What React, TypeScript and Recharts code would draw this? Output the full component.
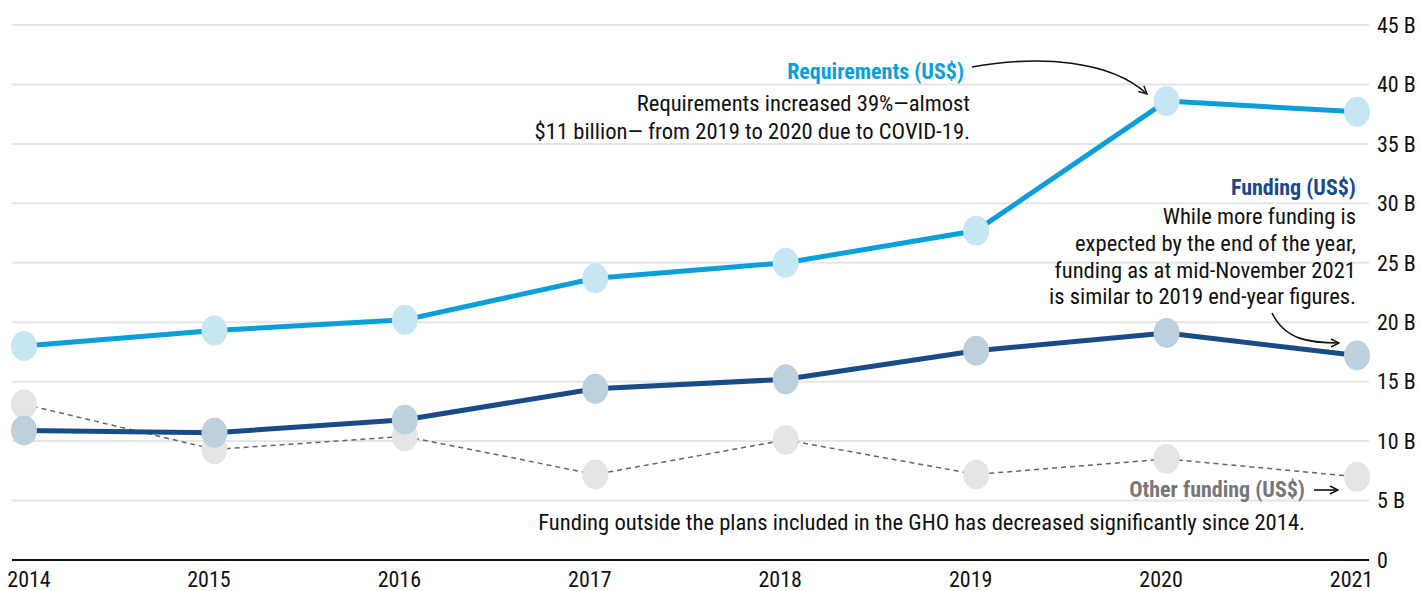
import React from "react";
import { LineChart, Line, XAxis, YAxis, CartesianGrid, Customized } from "recharts";

const years = [2014, 2015, 2016, 2017, 2018, 2019, 2020, 2021];
const requirements = [18.0, 19.3, 20.2, 23.7, 25.0, 27.7, 38.6, 37.7];
const funding = [10.9, 10.7, 11.8, 14.4, 15.2, 17.6, 19.1, 17.2];
const otherFunding = [13.1, 9.3, 10.4, 7.2, 10.1, 7.2, 8.5, 7.0];
const yTicks = [0, 5, 10, 15, 20, 25, 30, 35, 40, 45];

const data = years.map((year, i) => ({
  year,
  req: requirements[i],
  fund: funding[i],
  other: otherFunding[i],
}));

const FONT = "'Roboto Condensed', Roboto, 'Noto Sans', sans-serif";
const FS = 22;
const BODY_FS = 22.6;
const REQ = "#0a9fdb";
const FUND = "#1a4b89";
const OTHER = "#666666";

const makeDot = (fill: string) => (props: any) => {
  const { cx, cy, index } = props;
  if (cx == null || cy == null) return <g key={index} />;
  return <ellipse key={index} cx={cx} cy={cy} rx={13} ry={15} fill={fill} />;
};

const XTick = (props: any) => {
  const { x, y, payload, index } = props;
  const dx = index === 0 ? 5 : -5.5;
  return (
    <text x={x + dx} y={y + 19} textAnchor="middle" fontFamily={FONT} fontSize={FS} fill="#111">
      {payload.value}
    </text>
  );
};

const Annotations = () => {
  const body = { fontFamily: FONT, fontSize: BODY_FS, fill: "#111", textAnchor: "end" as const };
  const title = { fontFamily: FONT, fontSize: FS, fontWeight: 700, textAnchor: "end" as const };
  return (
    <g>
      <defs>
        <marker id="arrowOpen" viewBox="0 0 10 10" refX="9" refY="5" markerWidth="10" markerHeight="10" orient="auto-start-reverse" markerUnits="userSpaceOnUse">
          <path d="M1,1 L9,5 L1,9" fill="none" stroke="#111" strokeWidth="1.4" />
        </marker>
      </defs>
      <text x={964} y={79} {...title} fill={REQ}>Requirements (US$)</text>
      <text x={970} y={111} {...body}>Requirements increased 39%—almost</text>
      <text x={970} y={139} {...body}>$11 billion— from 2019 to 2020 due to COVID-19.</text>
      <path d="M972,67 C1040,55 1110,60 1147,94" fill="none" stroke="#111" strokeWidth={1.6} markerEnd="url(#arrowOpen)" />

      <text x={1356} y={195} {...title} fill={FUND}>Funding (US$)</text>
      <text x={1356} y={224} {...body}>While more funding is</text>
      <text x={1356} y={251} {...body}>expected by the end of the year,</text>
      <text x={1356} y={278} {...body}>funding as at  mid-November 2021</text>
      <text x={1356} y={304} {...body}>is similar to 2019 end-year figures.</text>
      <path d="M1272,313 C1285,340 1310,343 1339,343" fill="none" stroke="#111" strokeWidth={1.6} markerEnd="url(#arrowOpen)" />

      <text x={1305} y={497} {...title} fill="#777">Other funding (US$)</text>
      <path d="M1314,490 L1338,490" fill="none" stroke="#111" strokeWidth={1.6} markerEnd="url(#arrowOpen)" />
      <text x={1305} y={530} {...body}>Funding outside the plans included in the GHO has decreased significantly since 2014.</text>
    </g>
  );
};

export default function App() {
  return (
    <div style={{ position: "absolute", left: 0, top: 0, background: "#fff" }}>
      <LineChart width={1421} height={591} data={data} margin={{ top: 25, right: 0, bottom: 0, left: 12 }}>
        <CartesianGrid horizontal vertical={false} stroke="#e6e6e6" strokeWidth={2} />
        <XAxis
          dataKey="year"
          type="number"
          domain={[2013.937, 2021.063]}
          ticks={years}
          allowDecimals={false}
          height={31}
          axisLine={{ stroke: "#111", strokeWidth: 2 }}
          tickLine={false}
          tick={<XTick />}
        />
        <YAxis
          orientation="right"
          width={52}
          domain={[0, 45]}
          ticks={yTicks}
          axisLine={false}
          tickLine={false}
          tickFormatter={(v: number) => (v === 0 ? "0" : `${v} B`)}
          tick={{ fontFamily: FONT, fontSize: FS, fill: "#111", textAnchor: "start" }}
        />
        <Line dataKey="other" stroke="none" dot={makeDot("#e5e5e5")} activeDot={false} isAnimationActive={false} legendType="none" />
        <Line dataKey="fund" stroke="none" dot={makeDot("#bcd0dd")} activeDot={false} isAnimationActive={false} legendType="none" />
        <Line dataKey="req" stroke="none" dot={makeDot("#c7e6f4")} activeDot={false} isAnimationActive={false} legendType="none" />
        <Line dataKey="other" type="linear" stroke={OTHER} strokeWidth={1.5} strokeDasharray="5 4" dot={false} activeDot={false} isAnimationActive={false} />
        <Line dataKey="fund" type="linear" stroke={FUND} strokeWidth={5} strokeLinecap="round" strokeLinejoin="round" dot={false} activeDot={false} isAnimationActive={false} />
        <Line dataKey="req" type="linear" stroke={REQ} strokeWidth={5} strokeLinecap="round" strokeLinejoin="round" dot={false} activeDot={false} isAnimationActive={false} />
        <Customized component={Annotations} />
      </LineChart>
    </div>
  );
}
